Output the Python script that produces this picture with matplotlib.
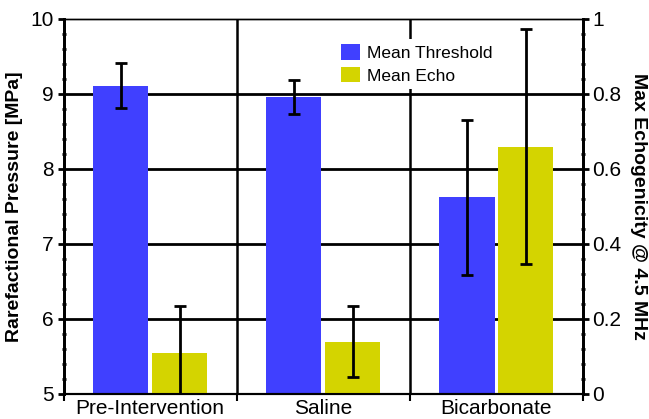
import matplotlib
matplotlib.use('Agg')
import matplotlib.pyplot as plt
from matplotlib.ticker import MultipleLocator, FixedLocator, NullFormatter

plt.rcParams['font.family'] = ['Liberation Sans', 'DejaVu Sans']

# data
groups = ['Pre-Intervention', 'Saline', 'Bicarbonate']
threshold = [9.11, 8.96, 7.62]        # MPa (left axis)
threshold_err = [0.30, 0.23, 1.03]
echo = [0.109, 0.139, 0.659]          # right axis
echo_err = [0.125, 0.094, 0.314]

blue = '#4040FF'
yellow = '#D4D400'
w = 0.32
x = list(range(len(groups)))

fig = plt.figure(figsize=(6.49, 4.19), dpi=100)
ax = fig.add_axes([0.098, 0.060, 0.800, 0.895])
ax2 = ax.twinx()

b1 = ax.bar([i - 0.17 for i in x], threshold, w, bottom=0, color=blue,
            yerr=threshold_err, capsize=4,
            error_kw=dict(ecolor='black', elinewidth=2, capthick=2),
            label='Mean Threshold', zorder=2)
b2 = ax2.bar([i + 0.17 for i in x], echo, w, color=yellow,
             yerr=echo_err, capsize=4,
             error_kw=dict(ecolor='black', elinewidth=2, capthick=2),
             label='Mean Echo', zorder=2)

ax.set_xlim(-0.5, 2.5)
ax.set_ylim(5, 10)
ax2.set_ylim(0, 1)

# grid: horizontal at integer MPa, vertical between groups
ax.set_axisbelow(True)
for yv in [6, 7, 8, 9]:
    ax.axhline(yv, color='black', lw=2, zorder=0.5)
for xv in [0.5, 1.5]:
    ax.axvline(xv, color='black', lw=1.8, zorder=0.5)

ax.xaxis.set_major_locator(FixedLocator([-0.5, 0.5, 1.5, 2.5]))
ax.xaxis.set_major_formatter(NullFormatter())
ax.xaxis.set_minor_locator(FixedLocator(x))
ax.set_xticklabels(groups, minor=True)
ax.tick_params(axis='x', which='major', direction='out', length=5, width=1.5)
ax.tick_params(axis='x', which='minor', length=0, labelsize=15, pad=4)

ax.yaxis.set_major_locator(MultipleLocator(1))
ax.yaxis.set_minor_locator(MultipleLocator(0.2))
ax.tick_params(axis='y', which='major', direction='out', length=4, width=2,
               labelsize=15, pad=3)
ax.tick_params(axis='y', which='minor', direction='inout', length=3, width=2)

ax2.yaxis.set_major_locator(MultipleLocator(0.2))
ax2.yaxis.set_minor_locator(MultipleLocator(0.04))
ax2.set_yticks([0, 0.2, 0.4, 0.6, 0.8, 1.0])
ax2.set_yticklabels(['0', '0.2', '0.4', '0.6', '0.8', '1'])
ax2.tick_params(axis='y', which='major', direction='out', length=4, width=2,
                labelsize=15, pad=3)
ax2.tick_params(axis='y', which='minor', direction='inout', length=3, width=2)

for a in (ax, ax2):
    a.spines['top'].set_linewidth(1)
    a.spines['left'].set_linewidth(2)
    a.spines['right'].set_linewidth(2)
    a.spines['bottom'].set_linewidth(1.5)

ax.set_ylabel('Rarefactional Pressure [MPa]', fontsize=14, fontweight='bold')
ax.yaxis.set_label_coords(-0.078, 0.5)
ax2.set_ylabel('Max Echogenicity @ 4.5 MHz', fontsize=14, fontweight='bold',
               rotation=-90, va='center')
ax2.yaxis.set_label_coords(1.107, 0.5)

leg = ax2.legend([b1, b2], ['Mean Threshold', 'Mean Echo'],
                 loc='upper left', bbox_to_anchor=(0.508, 0.97),
                 frameon=True, fontsize=12.5, handlelength=1.1,
                 handleheight=1.0, handletextpad=0.4, labelspacing=0.35,
                 borderpad=0.3, fancybox=False)
leg.get_frame().set_edgecolor('none')
leg.get_frame().set_facecolor('white')
leg.get_frame().set_alpha(1)
leg.set_zorder(1)

plt.savefig('out.png', dpi=100)
